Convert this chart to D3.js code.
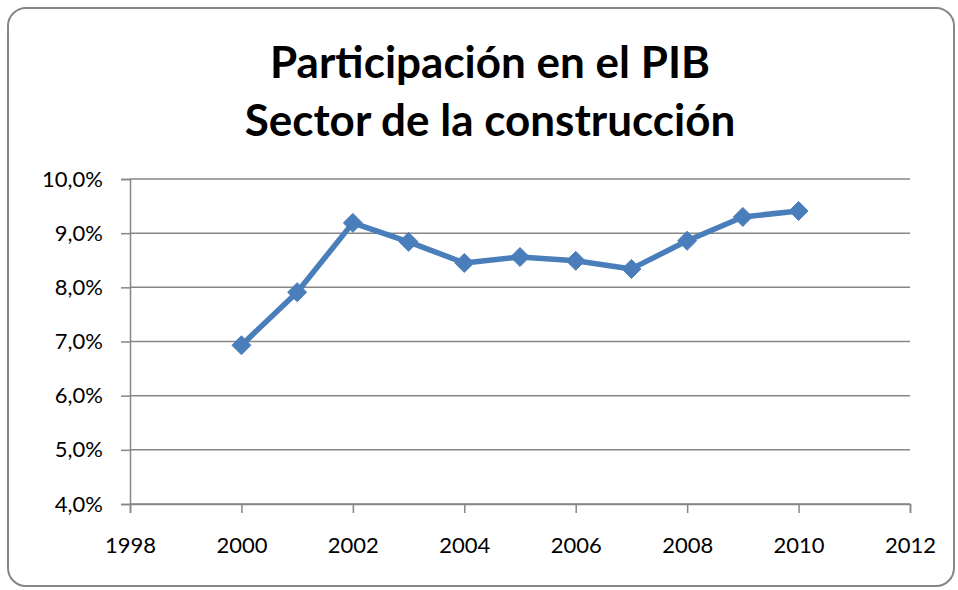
<!DOCTYPE html>
<html>
<head>
<meta charset="utf-8">
<script src="https://cdn.jsdelivr.net/npm/d3@7"></script>
<style>
  body { margin: 0; background: #fff; }
  text { font-family: Lato, "Open Sans", sans-serif; }
</style>
</head>
<body>
<div id="chart"></div>
<script>
// Data
const years = [2000, 2001, 2002, 2003, 2004, 2005, 2006, 2007, 2008, 2009, 2010];
const shares = [6.93, 7.91, 9.19, 8.84, 8.45, 8.56, 8.49, 8.34, 8.86, 9.30, 9.41];
const xTicks = [1998, 2000, 2002, 2004, 2006, 2008, 2010, 2012];
const yTicks = [4, 5, 6, 7, 8, 9, 10];
const titleLines = ["Participación en el PIB", "Sector de la construcción"];

const width = 958, height = 590;
const margin = { left: 130, right: 48, top: 179, bottom: 86 };

const svg = d3.select("#chart")
  .append("svg")
  .attr("width", width)
  .attr("height", height);

// Outer rounded frame
svg.append("rect")
  .attr("x", 8).attr("y", 8)
  .attr("width", 946).attr("height", 578)
  .attr("rx", 18)
  .attr("fill", "#fff")
  .attr("stroke", "#868686")
  .attr("stroke-width", 2);

// Title
svg.append("g").selectAll("text")
  .data(titleLines)
  .enter()
  .append("text")
  .attr("x", 490)
  .attr("y", (d, i) => 78 + i * 58)
  .attr("text-anchor", "middle")
  .attr("font-size", 44)
  .attr("font-weight", "bold")
  .attr("fill", "#000")
  .text(d => d);

const x = d3.scaleLinear()
  .domain([1998, 2012])
  .range([margin.left, width - margin.right]);

const y = d3.scaleLinear()
  .domain([4, 10])
  .range([height - margin.bottom, margin.top]);

// Horizontal gridlines
svg.append("g").selectAll("line")
  .data(yTicks)
  .enter()
  .append("line")
  .attr("x1", margin.left)
  .attr("x2", width - margin.right)
  .attr("y1", d => y(d))
  .attr("y2", d => y(d))
  .attr("stroke", "#868686")
  .attr("stroke-width", 1.5);

// Y axis
const yAxis = svg.append("g")
  .attr("transform", `translate(${margin.left},0)`)
  .call(d3.axisLeft(y)
    .tickValues(yTicks)
    .tickSize(9)
    .tickPadding(18)
    .tickFormat(d => d3.format(".1f")(d).replace(".", ",") + "%"));

// X axis
const xAxis = svg.append("g")
  .attr("transform", `translate(0,${y(4)})`)
  .call(d3.axisBottom(x)
    .tickValues(xTicks)
    .tickSize(9)
    .tickPadding(24)
    .tickFormat(d3.format("d")));

[yAxis, xAxis].forEach(ax => {
  ax.select(".domain").attr("stroke", "#868686").attr("stroke-width", 1.5);
  ax.selectAll(".tick line").attr("stroke", "#868686").attr("stroke-width", 1.5);
  ax.selectAll(".tick text")
    .attr("font-size", 22)
    .attr("fill", "#000")
    .style("font-family", "Lato, 'Open Sans', sans-serif");
});

const points = years.map((yr, i) => ({ year: yr, value: shares[i] }));

// Series line
const line = d3.line()
  .x(d => x(d.year))
  .y(d => y(d.value));

svg.append("path")
  .datum(points)
  .attr("d", line)
  .attr("fill", "none")
  .attr("stroke", "#4a7ebb")
  .attr("stroke-width", 5.5)
  .attr("stroke-linejoin", "round");

// Diamond markers
svg.append("g").selectAll("path")
  .data(points)
  .enter()
  .append("path")
  .attr("transform", d => `translate(${x(d.year)},${y(d.value)})`)
  .attr("d", d3.symbol().type(d3.symbolDiamond2).size(230))
  .attr("fill", "#4a7ebb")
  .attr("stroke", "#4a7ebb")
  .attr("stroke-width", 1);
</script>
</body>
</html>
